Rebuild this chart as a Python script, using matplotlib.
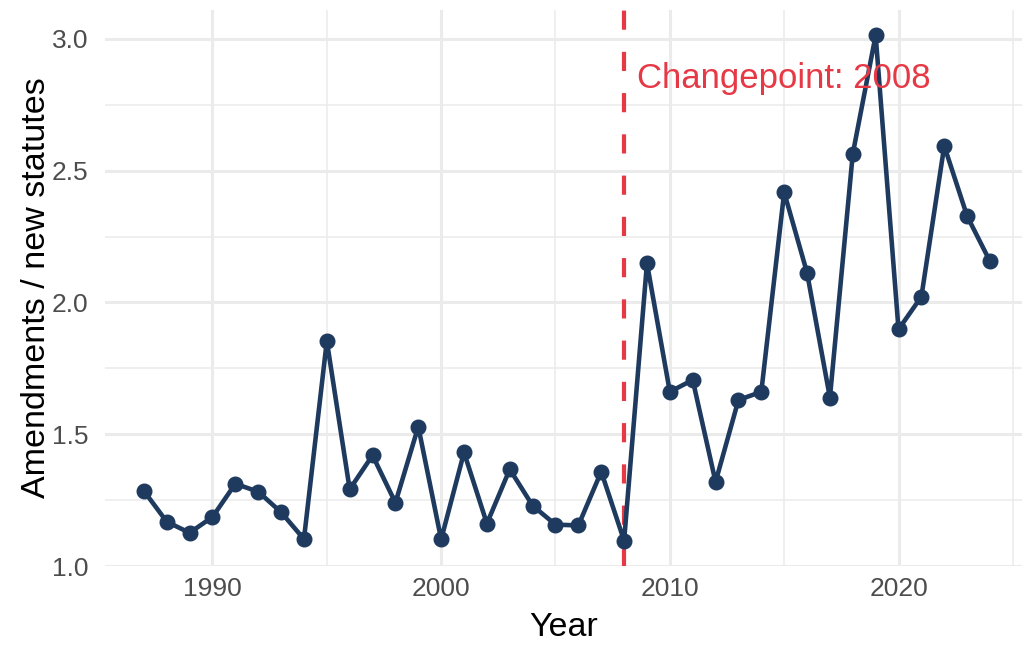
import matplotlib.pyplot as plt
from matplotlib.ticker import MultipleLocator

plt.rcParams['font.family'] = ['Liberation Sans', 'DejaVu Sans']

years = list(range(1987, 2025))
ratio = [1.285, 1.168, 1.126, 1.186, 1.312, 1.282, 1.204, 1.102, 1.854, 1.291,
         1.420, 1.240, 1.529, 1.101, 1.431, 1.161, 1.367, 1.229, 1.157, 1.154,
         1.358, 1.096, 2.149, 1.661, 1.706, 1.319, 1.630, 1.661, 2.418, 2.113,
         1.639, 2.564, 3.014, 1.898, 2.022, 2.594, 2.328, 2.156]
changepoint = 2008
cp_label = "Changepoint: 2008"

line_color = '#1F3A5F'
cp_color = '#E63946'
grid_color = '#EBEBEB'

fig = plt.figure(figsize=(10.22, 6.45), dpi=100)
ax = fig.add_axes([105 / 1022, 79 / 645, 917 / 1022, 556 / 645])

ax.plot(years, ratio, color=line_color, lw=3.3, marker='o', ms=10.5,
        solid_joinstyle='round', zorder=3)
ax.axvline(changepoint, color=cp_color, lw=3.0, dashes=(4.6, 5.3), zorder=2)
ax.text(2008.56, 2.814, cp_label, color=cp_color, fontsize=25,
        ha='left', va='baseline', zorder=4)

ax.set_xlim(1985.3, 2025.4)
ax.set_ylim(1.0, 3.11)
ax.xaxis.set_major_locator(MultipleLocator(10))
ax.xaxis.set_minor_locator(MultipleLocator(5))
ax.yaxis.set_major_locator(MultipleLocator(0.5))
ax.yaxis.set_minor_locator(MultipleLocator(0.25))
ax.yaxis.set_major_formatter(lambda v, p: f"{v:.1f}")

ax.grid(which='major', color=grid_color, lw=2.2)
ax.grid(which='minor', color=grid_color, lw=1.1)
ax.set_axisbelow(True)
for s in ax.spines.values():
    s.set_visible(False)
ax.tick_params(which='both', length=0, labelsize=19, labelcolor='#4D4D4D')
ax.tick_params(axis='y', pad=12)
ax.tick_params(axis='x', pad=8)

ax.set_xlabel("Year", fontsize=24.5, labelpad=8)
ax.set_ylabel("Amendments / new statutes", fontsize=24.5, labelpad=0)

fig.savefig('out.png', dpi=100)
